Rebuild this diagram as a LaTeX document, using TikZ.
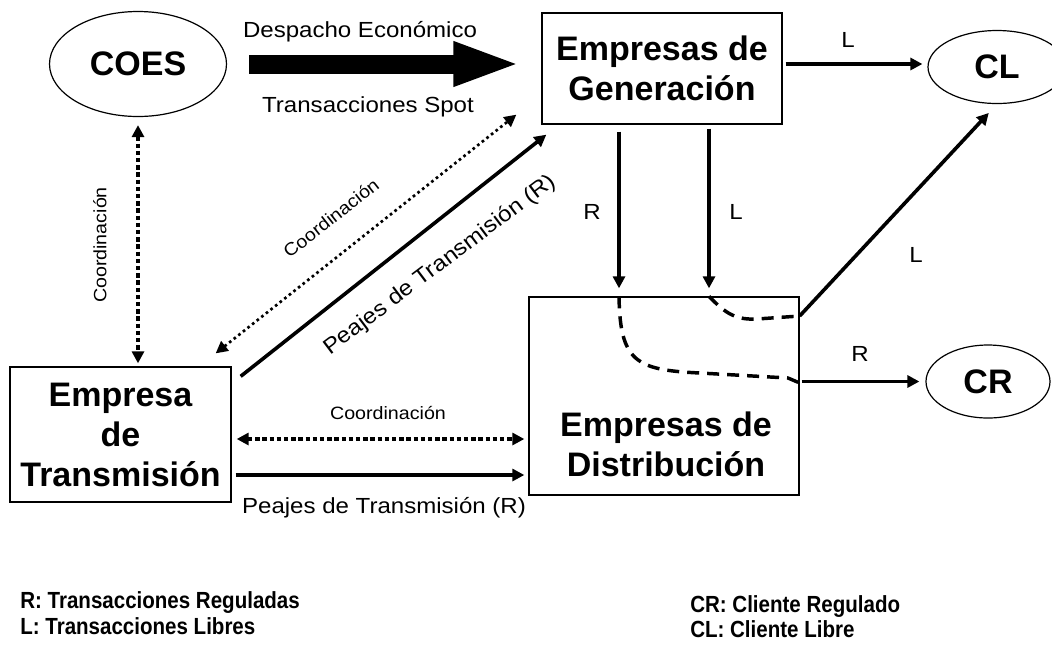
\documentclass[tikz,border=0pt]{standalone}
\usepackage{fontspec}
\setmainfont{Liberation Sans}
\newfontfamily\widefont[FakeStretch=1.1]{Liberation Sans}
\newfontfamily\keyfont[FakeStretch=0.88]{Liberation Sans}
\usetikzlibrary{arrows.meta,shapes.geometric}
\newcommand{\pxu}{0.75pt}
\tikzset{
    >={Triangle[length=9pt,width=9pt]},
    mkt/.style={
        ent/.append style={draw,line width=1pt,rectangle,align=center,inner sep=0pt,font=\fontsize{25.5}{30}\selectfont\bfseries},
        cli/.append style={draw,line width=0.9pt,ellipse,inner sep=0pt,minimum height=73*\pxu,font=\fontsize{25.5}{30}\selectfont\bfseries},
        lbl/.append style={inner sep=0pt,font=\widefont\fontsize{16.4}{20}\selectfont},
        coord/.append style={inner sep=0pt,font=\widefont\fontsize{13.4}{16}\selectfont},
        legend/.append style={inner sep=0pt,anchor=base west,font=\keyfont\fontsize{17.5}{20}\selectfont\bfseries},
        flow/.append style={draw,line width=2.7pt,->},
        big/.append style={draw,line width=14.25pt,-{Triangle[length=51pt,width=30pt]}},
        sync/.append style={draw,line width=3pt,dash pattern=on 3.4pt off 2pt,<->},
        thin sync/.append style={draw,line width=2pt,dash pattern=on 2pt off 2.4pt,<->},
        part/.append style={draw,line width=2.6pt,dash pattern=on 9pt off 6pt}
    }
}

\begin{document}
\begin{tikzpicture}[mkt,x=\pxu,y=-\pxu]
    \useasboundingbox (0,0) rectangle (1052,644);

    \node[cli,minimum width=177*\pxu,minimum height=105*\pxu] (coes) at (138,64) {COES};
    \node[ent,minimum width=240*\pxu,minimum height=111*\pxu] (gen) at (662,68.5) {Empresas de\\Generación};
    \node[cli,minimum width=138*\pxu] (cl) at (997,67) {CL};
    \node[cli,minimum width=124*\pxu] (cr) at (988,381.5) {CR};
    \node[ent,minimum width=221*\pxu,minimum height=135*\pxu] (trans) at (120.5,434.5) {Empresa\\de\\Transmisión};
    \node[ent,minimum width=270*\pxu,minimum height=198*\pxu] (dist) at (664,396) {};
    \node[ent,draw=none] (distname) at (666,444) {Empresas de\\Distribución};

    % COES -> generadoras
    \draw[big,shorten <=22*\pxu,shorten >=20*\pxu] (coes.east) -- (coes.east -| gen.west);
    \node[lbl,anchor=base] (desp) at (360,37) {Despacho Económico};
    \node[lbl,anchor=base] (spot) at (368,112) {Transacciones Spot};

    \draw[flow,shorten <=3*\pxu,shorten >=5*\pxu] (gen.east |- 0,64) -- (cl.west |- 0,64);
    \node[lbl] (lgc) at (848,40) {L};

    \draw[flow,shorten <=7*\pxu,shorten >=8*\pxu] (619,0 |- gen.south) -- (619,0 |- dist.north);
    \draw[flow,shorten <=4*\pxu,shorten >=8*\pxu] (709,0 |- gen.south) -- (709,0 |- dist.north);
    \node[lbl] (lgr) at (592,212) {R};
    \node[lbl] (lgl) at (736,212) {L};

    % recorridos dentro de la distribuidora
    \draw[part] (619,0 |- dist.north) .. controls (620,362) and (636,370) .. (700,373) -- (788,378) -- (dist.east |- 0,383);
    \draw[part] (709,0 |- dist.north) .. controls (726,314) and (736,320) .. (757,319) -- (dist.east |- 0,316);

    \draw[flow,shorten >=12*\pxu] (dist.east |- 0,316) -- (cl.south);
    \node[lbl] (ldc) at (916,255) {L};
    \draw[flow,shorten <=2*\pxu,shorten >=6*\pxu] (dist.east |- cr.west) -- (cr.west);
    \node[lbl] (ldr) at (860,354) {R};

    % transmision
    \draw[sync,shorten <=8*\pxu,shorten >=3*\pxu] (coes.south) -- (coes.south |- trans.north);
    \node[coord,rotate=90] (cct) at (100,245) {Coordinación};

    \draw[thin sync] ([xshift=-16*\pxu,yshift=13*\pxu]trans.north east) -- ([xshift=-25*\pxu,yshift=10*\pxu]gen.south west);
    \node[coord,rotate=38] (ctg) at (331,218) {Coordinación};
    \draw[flow] ([xshift=9*\pxu,yshift=-10*\pxu]trans.north east) -- ([xshift=5*\pxu,yshift=-10*\pxu]gen.south west);
    \node[lbl,rotate=37] (ptg) at (440,265) {Peajes de Transmisión (R)};

    \draw[sync,shorten <=5*\pxu,shorten >=4*\pxu] (trans.east |- 0,439) -- (dist.west |- 0,439);
    \node[coord,anchor=base] (ctd) at (388,419) {Coordinación};
    \draw[flow,shorten <=4*\pxu,shorten >=4*\pxu] (trans.east |- 0,475) -- (dist.west |- 0,475);
    \node[lbl,anchor=base] (ptd) at (384,513) {Peajes de Transmisión (R)};

    % leyenda
    \node[legend] (kr) at (20,608) {R: Transacciones Reguladas};
    \node[legend] (kl) at (20,634) {L: Transacciones Libres};
    \node[legend] (kcr) at (690,612) {CR: Cliente Regulado};
    \node[legend] (kcl) at (690,637) {CL: Cliente Libre};
\end{tikzpicture}
\end{document}
